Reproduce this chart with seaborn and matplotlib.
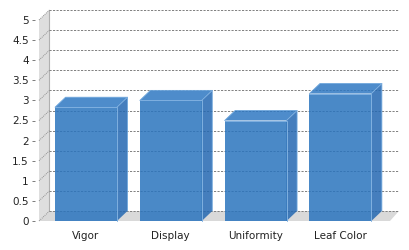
import matplotlib
matplotlib.use('Agg')
import matplotlib.pyplot as plt
import seaborn as sns
import pandas as pd
from matplotlib.patches import Polygon

categories = ['Vigor', 'Display', 'Uniformity', 'Leaf Color']
values = [2.83, 3.0, 2.5, 3.17]
yticks = [0, 0.5, 1, 1.5, 2, 2.5, 3, 3.5, 4, 4.5, 5]
ytick_labels = ['0', '0.5', '1', '1.5', '2', '2.5', '3', '3.5', '4', '4.5', '5']

sns.set_theme(style='white')
plt.rcParams['font.family'] = ['DejaVu Sans']

W, H = 410, 250
fig = plt.figure(figsize=(W / 100, H / 100), dpi=100)
ax_left, ax_right = 39, 390
y0_px, y5_px = 221, 20
ax = fig.add_axes([ax_left / W, (H - y0_px) / H, (ax_right - ax_left) / W, (y0_px - y5_px) / H])
ax.patch.set_alpha(0)

df = pd.DataFrame({'category': categories, 'value': values})
front = '#2a74be'
sns.barplot(data=df, x='category', y='value', color=front, width=0.73,
            saturation=1, ax=ax, zorder=5, alpha=0.85, linewidth=0)
bars = list(ax.patches)

px_per_x = 84.8
x0 = -(86 - ax_left) / px_per_x
x1 = x0 + (ax_right - ax_left) / px_per_x
ax.set_xlim(x0, x1)
ax.set_ylim(0, 5)
px_per_y = (y0_px - y5_px) / 5
dx = 10.5 / px_per_x
dy = 10 / px_per_y

# walls
wall = Polygon([(x0, 0), (x0, 5), (x0 + dx, 5 + dy), (x0 + dx, dy)], closed=True,
               facecolor='#dedede', edgecolor='none', zorder=1, clip_on=False)
ax.add_patch(wall)
floor = Polygon([(x0, 0), (x0 + dx, dy), (x1 + dx * 0.85, dy), (x1, 0)], closed=True,
                facecolor='#d9d9d9', edgecolor='none', zorder=1, clip_on=False)
ax.add_patch(floor)
ax.plot([x0 + dx, x0 + dx], [dy, 5 + dy], color='#b0b0b0', lw=0.8, zorder=2, clip_on=False)

for v in yticks:
    ax.plot([x0 + dx, x1 + dx * 0.85], [v + dy, v + dy], color='#808080', lw=0.7,
            ls=(0, (2.2, 1.4)), zorder=2, clip_on=False)
    ax.plot([x0, x0 + dx], [v, v + dy], color='#909090', lw=0.7, ls=(0, (1, 1)),
            zorder=2, clip_on=False)

# 3D faces for bars
for p in bars:
    bx, bw, bh = p.get_x(), p.get_width(), p.get_height()
    top = Polygon([(bx, bh), (bx + dx, bh + dy), (bx + bw + dx, bh + dy), (bx + bw, bh)],
                  closed=True, facecolor='#2f78c2', edgecolor='none',
                  alpha=0.85, zorder=6, clip_on=False)
    side = Polygon([(bx + bw, 0), (bx + bw, bh), (bx + bw + dx, bh + dy), (bx + bw + dx, dy)],
                   closed=True, facecolor='#2468b2', edgecolor='none', zorder=6,
                   alpha=0.85, clip_on=False)
    ax.add_patch(side)
    ax.add_patch(top)
    ax.plot([bx, bx + dx, bx + bw + dx, bx + bw + dx], [bh, bh + dy, bh + dy, dy],
            color='#6ea6dc', lw=0.6, zorder=7, clip_on=False)
    ax.plot([bx, bx + bw, bx + bw], [bh, bh, 0], color='#7fb0e0', lw=0.7, zorder=7,
            clip_on=False)
    ax.plot([bx + bw, bx + bw + dx], [bh, bh + dy], color='#7fb0e0', lw=0.6, zorder=7,
            clip_on=False)

for s in ax.spines.values():
    s.set_visible(False)
ax.spines['left'].set_position(('outward', 3))
ax.set_yticks(yticks)
ax.set_yticklabels(ytick_labels)
ax.tick_params(axis='y', left=True, length=2.4, width=0.6, color='#666666', pad=2,
               labelsize=7.5, labelcolor='#222222')
ax.tick_params(axis='x', bottom=False, pad=1.5, labelsize=7.5, labelcolor='#222222')
ax.set_xlabel('')
ax.set_ylabel('')

fig.savefig('out.png', dpi=100)
